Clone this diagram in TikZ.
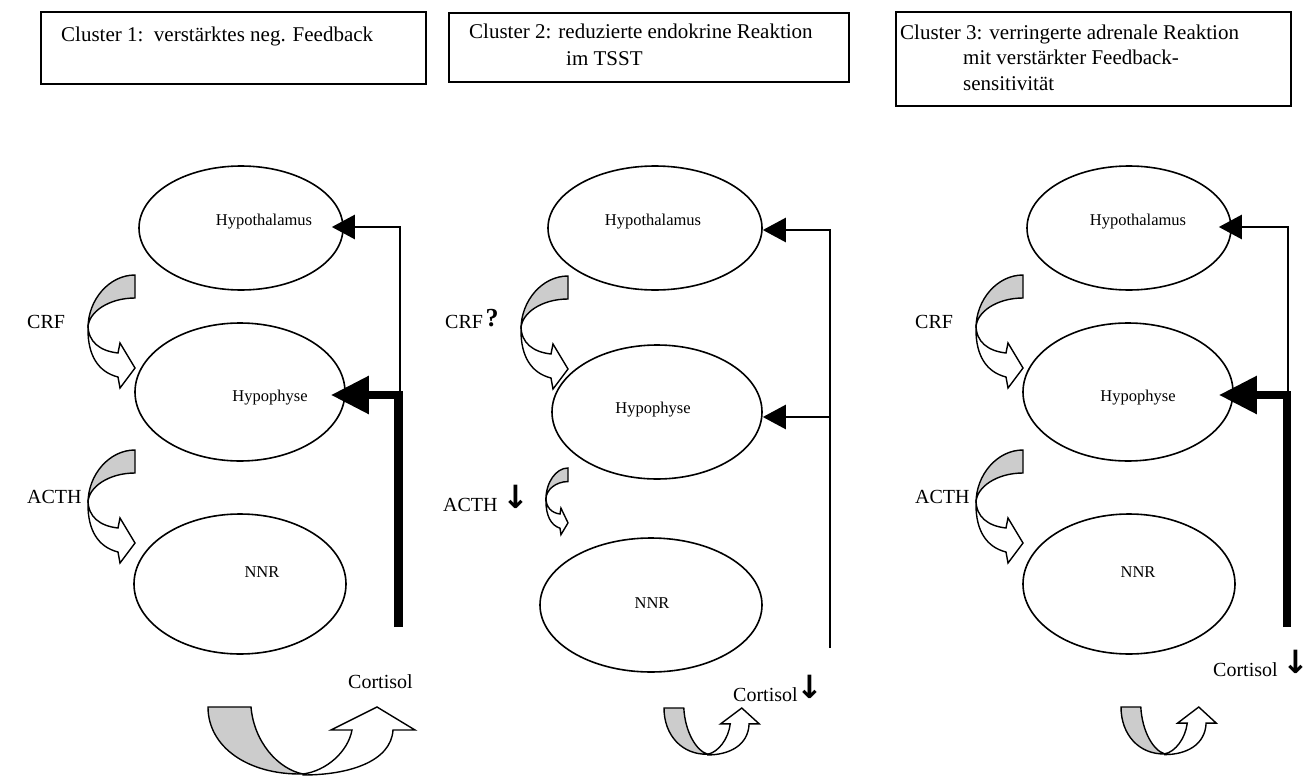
\documentclass[tikz,border=0pt]{standalone}
\usepackage{fontspec}
\setmainfont{Liberation Serif}
\newfontfamily\symfont{DejaVu Sans}
\usetikzlibrary{shapes.geometric,arrows.meta,calc}

\tikzset{
  organ/.style={draw, ellipse, line width=1.6pt, inner sep=0pt},
  titlebox/.style={draw, line width=2pt, anchor=north west, inner sep=0pt},
  lbl/.style={font=\fontsize{16.5}{20}\selectfont, inner sep=0pt},
  sig/.style={font=\fontsize{20}{24}\selectfont, inner sep=0pt, anchor=west},
  ttl/.style={font=\fontsize{21}{26}\selectfont, inner sep=0pt, anchor=base west},
  downglyph/.style={font=\symfont\bfseries\fontsize{32}{34}\selectfont, inner sep=0pt},
  fbthin/.style={line width=2.5pt, -{Triangle[length=23pt,width=24pt]}},
  fbthick/.style={line width=8.5pt, -{Triangle[length=38pt,width=36pt]}},
  band/.style={draw, line width=1.4pt, line join=miter},
  % curved hormone arrow: grey back of the band on top, white front with head below
  hormone/.pic={
    \filldraw[band, fill=gray!40] (0,0) .. controls (-26,0) and (-47,25) .. (-47,53)
       .. controls (-47,37) and (-26,23) .. (0,23) -- cycle;
    \filldraw[band, fill=white] (-47,50) .. controls (-47,67) and (-35,76) .. (-17,78)
       -- (-15,68) -- (0,93) -- (-15,113) -- (-17,102)
       .. controls (-37,97) and (-47,80) .. (-47,55) -- cycle;
  },
  % U-turn arrow for cortisol release
  uturn/.pic={
    \filldraw[band, fill=gray!40] (0,0) -- (43,0) .. controls (46,35) and (70,62) .. (95,67)
       .. controls (40,68) and (0,40) .. (0,0) -- cycle;
    \filldraw[band, fill=white] (95,67) .. controls (118,64) and (140,45) .. (144,23)
       -- (123,23) -- (169,0) -- (207,23) -- (185,23)
       .. controls (183,55) and (140,68) .. (95,68) -- cycle;
  },
}

\begin{document}
\begin{tikzpicture}[x=1pt,y=-1pt]
\fill[white] (0,0) rectangle (1315,776);
\useasboundingbox (0,0) rectangle (1315,776);

% ---------- title boxes ----------
\node[titlebox, minimum width=385pt, minimum height=72pt] (b1) at (40,11) {};
\node[ttl] (t1) at (61,42) {Cluster 1:\ \ verstärktes neg. Feedback};

\node[titlebox, minimum width=400pt, minimum height=69pt] (b2) at (448,12) {};
\node[ttl] (t2a) at (469,39) {Cluster 2: reduzierte endokrine Reaktion};
\node[ttl] (t2b) at (566,66) {im TSST};

\node[titlebox, minimum width=395pt, minimum height=94pt] (b3) at (895,11) {};
\node[ttl] (t3a) at (900,40) {Cluster 3: verringerte adrenale Reaktion};
\node[ttl] (t3b) at (963,65) {mit verstärkter Feedback-};
\node[ttl] (t3c) at (963,90) {sensitivität};

% ---------- cluster 1 ----------
\node[organ, minimum width=204pt, minimum height=124pt] (h1) at (241,228) {};
\node[organ, minimum width=210pt, minimum height=138pt] (p1) at (240,392) {};
\node[organ, minimum width=212pt, minimum height=140pt] (n1) at (240,584) {};
\node[lbl] (h1t) at (264,222) {Hypothalamus};
\node[lbl] (p1t) at (270,398) {Hypophyse};
\node[lbl] (n1t) at (262,572) {NNR};

\node[sig] (crf1) at (27,322) {CRF};
\node[sig] (acth1) at (27,497) {ACTH};
\pic at (135,275) {hormone};
\pic at (135,450) {hormone};

\coordinate (c1mid) at (400,395);
\coordinate (c1bot) at (398.5,627);
\draw[fbthin] (c1mid) |- ($(h1.east)+(-12,-1)$);
\draw[fbthick] (c1bot) |- ($(p1.east)+(-15,3)$);

\node[sig] (cort1) at (348,682) {Cortisol};
\pic at (208,707) {uturn};

% ---------- cluster 2 ----------
\node[organ, minimum width=214pt, minimum height=124pt] (h2) at (655,228) {};
\node[organ, minimum width=210pt, minimum height=134pt] (p2) at (657,412) {};
\node[organ, minimum width=222pt, minimum height=134pt] (n2) at (651,605) {};
\node[lbl] (h2t) at (653,222) {Hypothalamus};
\node[lbl] (p2t) at (653,410) {Hypophyse};
\node[lbl] (n2t) at (652,603) {NNR};

\node[sig] (crf2) at (445,322) {CRF};
\node[font=\bfseries\fontsize{26}{28}\selectfont, inner sep=0pt] (q2) at (492,318) {?};
\node[sig] (acth2) at (443,505) {ACTH};
\node[downglyph] (acth2d) at (516,497) {↓};
\pic at (568,276) {hormone};
\pic[xscale=0.47, yscale=0.59] at (568,468) {hormone};

\coordinate (c2bot) at (830,648);
\coordinate (c2j) at (830,417);
\draw[fbthin] (c2bot) |- ($(h2.east)+(0,2)$);
\draw[fbthin] (c2j) -- ($(p2.east)+(0,5)$);

\node[sig] (cort2) at (733,695) {Cortisol};
\node[downglyph] (cort2d) at (810,687) {↓};
\pic[xscale=0.46, yscale=0.69] at (664,708) {uturn};

% ---------- cluster 3 ----------
\node[organ, minimum width=204pt, minimum height=124pt] (h3) at (1129,228) {};
\node[organ, minimum width=210pt, minimum height=138pt] (p3) at (1128,392) {};
\node[organ, minimum width=212pt, minimum height=140pt] (n3) at (1129,584) {};
\node[lbl] (h3t) at (1138,222) {Hypothalamus};
\node[lbl] (p3t) at (1138,398) {Hypophyse};
\node[lbl] (n3t) at (1138,572) {NNR};

\node[sig] (crf3) at (915,322) {CRF};
\node[sig] (acth3) at (915,497) {ACTH};
\pic at (1023,275) {hormone};
\pic at (1023,450) {hormone};

\coordinate (c3mid) at (1288,395);
\coordinate (c3bot) at (1287,627);
\draw[fbthin] (c3mid) |- ($(h3.east)+(-13,-1)$);
\draw[fbthick] (c3bot) |- ($(p3.east)+(-15,3)$);

\node[sig] (cort3) at (1213,670) {Cortisol};
\node[downglyph] (cort3d) at (1296,662) {↓};
\pic[xscale=0.46, yscale=0.7] at (1121,707) {uturn};
\end{tikzpicture}
\end{document}
